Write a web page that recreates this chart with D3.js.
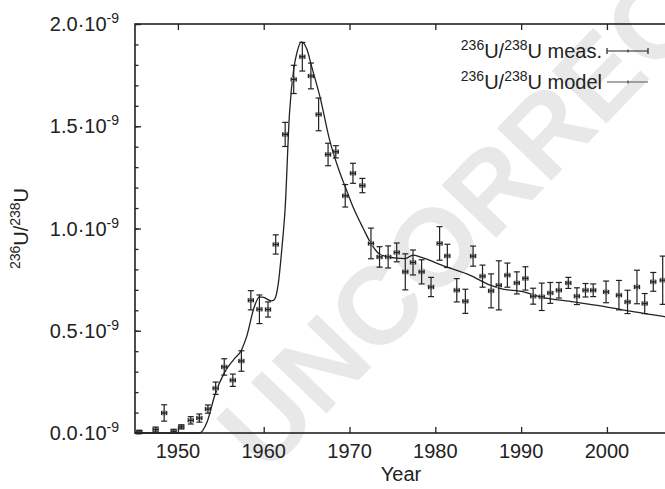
<!DOCTYPE html>
<html>
<head>
<meta charset="utf-8">
<script src="https://cdn.jsdelivr.net/npm/d3@7"></script>
<style>
  body { margin: 0; background: #fff; }
  svg { display: block; overflow: hidden; }
  text { font-family: "Liberation Sans", Arial, sans-serif; fill: #222; }
</style>
</head>
<body>
<div id="chart"></div>
<script>
// values of the ratio are in units of 1e-9
const years = [1945.5, 1947.4, 1948.4, 1949.5, 1950.4, 1951.5, 1952.5, 1953.5, 1954.4, 1955.4,
  1956.4, 1957.4, 1958.5, 1959.5, 1960.5, 1961.4, 1962.5, 1963.5, 1964.5, 1965.5,
  1966.4, 1967.5, 1968.4, 1969.5, 1970.4, 1971.5, 1972.5, 1973.5, 1974.5, 1975.5,
  1976.5, 1977.4, 1978.4, 1979.5, 1980.5, 1981.4, 1982.5, 1983.5, 1984.4, 1985.5,
  1986.5, 1987.4, 1988.4, 1989.5, 1990.5, 1991.4, 1992.4, 1993.4, 1994.4, 1995.5,
  1996.5, 1997.5, 1998.4, 1999.9, 2001.4, 2002.4, 2003.5, 2004.4, 2005.4, 2006.5];
const ratio = [0.005, 0.017, 0.098, 0.008, 0.03, 0.062, 0.073, 0.117, 0.219, 0.323,
  0.258, 0.352, 0.649, 0.605, 0.604, 0.922, 1.46, 1.729, 1.84, 1.746,
  1.558, 1.362, 1.375, 1.16, 1.27, 1.21, 0.927, 0.861, 0.861, 0.883,
  0.788, 0.834, 0.788, 0.714, 0.927, 0.866, 0.698, 0.644, 0.865, 0.767,
  0.695, 0.722, 0.772, 0.734, 0.756, 0.669, 0.666, 0.685, 0.698, 0.734,
  0.669, 0.698, 0.698, 0.69, 0.674, 0.641, 0.714, 0.633, 0.739, 0.747];
const ratioErr = [0.008, 0.012, 0.04, 0.01, 0.01, 0.018, 0.02, 0.02, 0.03, 0.04,
  0.03, 0.05, 0.047, 0.07, 0.037, 0.047, 0.059, 0.069, 0.07, 0.063,
  0.08, 0.055, 0.03, 0.055, 0.049, 0.035, 0.075, 0.05, 0.054, 0.046,
  0.088, 0.061, 0.059, 0.047, 0.082, 0.057, 0.057, 0.059, 0.049, 0.054,
  0.083, 0.12, 0.059, 0.054, 0.057, 0.039, 0.067, 0.051, 0.038, 0.027,
  0.041, 0.033, 0.031, 0.053, 0.072, 0.057, 0.082, 0.049, 0.046, 0.118];
const yearErr = 0.3;

const modelYears = [1945, 1952.5, 1953.4, 1954.3, 1955.4, 1956.5, 1957.4, 1958.0, 1958.9, 1959.5,
  1960.0, 1960.9, 1961.2, 1961.7, 1962.1, 1962.5, 1963.0, 1963.5, 1963.9, 1964.4,
  1965.0, 1965.6, 1966.6, 1967.7, 1968.9, 1969.5, 1970.4, 1971.6, 1972.5, 1973.4,
  1974.5, 1975.5, 1976.5, 1977.4, 1978.2, 1981.3, 1984.0, 1986.4, 1987.5, 1990.3,
  1992.2, 1996.1, 1999.9, 2002.7, 2006.4, 2007];
const modelRatio = [0, 0, 0.054, 0.185, 0.294, 0.359, 0.405, 0.47, 0.617, 0.666,
  0.663, 0.646, 0.65, 0.73, 0.894, 1.1, 1.56, 1.78, 1.865, 1.913,
  1.88, 1.79, 1.636, 1.43, 1.27, 1.204, 1.106, 1.0, 0.927, 0.878,
  0.861, 0.855, 0.853, 0.87, 0.861, 0.812, 0.772, 0.723, 0.707, 0.69,
  0.666, 0.641, 0.617, 0.596, 0.571, 0.567];

const xTicks = [1950, 1960, 1970, 1980, 1990, 2000];
const yTicks = [0, 0.5, 1.0, 1.5, 2.0];
const yMinorTicks = d3.range(0, 2.01, 0.1);

const W = 665, H = 489;
const margin = {top: 24, right: -2, bottom: 56, left: 135};

const svg = d3.select("#chart").append("svg")
  .attr("width", W).attr("height", H);

const x = d3.scaleLinear().domain([1945, 2007]).range([margin.left, W - margin.right]);
const y = d3.scaleLinear().domain([0, 2.0]).range([H - margin.bottom, margin.top]);

// watermark
svg.append("text")
  .attr("transform", "translate(266,476) rotate(-46)")
  .style("font-size", "110px")
  .style("font-weight", "bold")
  .style("fill", "#e8e8e8")
  .text("UNCORRECTED");

// model curve
const line = d3.line()
  .x((d, i) => x(modelYears[i]))
  .y(d => y(d))
  .curve(d3.curveMonotoneX);

svg.append("path")
  .datum(modelRatio)
  .attr("d", line)
  .style("fill", "none")
  .style("stroke", "#222")
  .style("stroke-width", 1.3);

// measurements with error bars
const pts = svg.append("g").selectAll("g")
  .data(years.map((yr, i) => ({yr, v: ratio[i], e: ratioErr[i]})))
  .enter().append("g");

pts.append("rect")
  .attr("x", d => x(d.yr) - 2.5).attr("y", d => y(d.v) - 2.5)
  .attr("width", 5).attr("height", 5)
  .style("fill", "#aaa");

const bar = (sel, f) => sel.append("line").call(f)
  .style("stroke", "#222").style("stroke-width", 1.2);

bar(pts, s => s.attr("x1", d => x(d.yr)).attr("x2", d => x(d.yr))
  .attr("y1", d => y(d.v - d.e)).attr("y2", d => y(d.v + d.e)));
bar(pts, s => s.attr("x1", d => x(d.yr) - 3).attr("x2", d => x(d.yr) + 3)
  .attr("y1", d => y(d.v - d.e)).attr("y2", d => y(d.v - d.e)));
bar(pts, s => s.attr("x1", d => x(d.yr) - 3).attr("x2", d => x(d.yr) + 3)
  .attr("y1", d => y(d.v + d.e)).attr("y2", d => y(d.v + d.e)));
bar(pts, s => s.attr("x1", d => x(d.yr - yearErr)).attr("x2", d => x(d.yr + yearErr))
  .attr("y1", d => y(d.v)).attr("y2", d => y(d.v)));
bar(pts, s => s.attr("x1", d => x(d.yr - yearErr)).attr("x2", d => x(d.yr - yearErr))
  .attr("y1", d => y(d.v) - 2).attr("y2", d => y(d.v) + 2));
bar(pts, s => s.attr("x1", d => x(d.yr + yearErr)).attr("x2", d => x(d.yr + yearErr))
  .attr("y1", d => y(d.v) - 2).attr("y2", d => y(d.v) + 2));

// frame
svg.append("rect")
  .attr("x", x(1945)).attr("y", y(2.0))
  .attr("width", x(2007) - x(1945)).attr("height", y(0) - y(2.0))
  .style("fill", "none").style("stroke", "#222").style("stroke-width", 1.6);

// axes with inward ticks
svg.append("g")
  .attr("transform", `translate(0,${y(0)})`)
  .call(d3.axisTop(x).tickValues(xTicks).tickSize(6).tickFormat(""))
  .call(g => g.select(".domain").remove());
svg.append("g")
  .attr("transform", `translate(0,${y(2.0)})`)
  .call(d3.axisBottom(x).tickValues(xTicks).tickSize(6).tickFormat(""))
  .call(g => g.select(".domain").remove());
svg.append("g")
  .attr("transform", `translate(${x(1945)},0)`)
  .call(d3.axisRight(y).tickValues(yMinorTicks).tickSize(3.5).tickFormat(""))
  .call(g => g.select(".domain").remove());
svg.append("g")
  .attr("transform", `translate(${x(1945)},0)`)
  .call(d3.axisRight(y).tickValues(yTicks).tickSize(6).tickFormat(""))
  .call(g => g.select(".domain").remove());
svg.selectAll(".tick line").style("stroke", "#222").style("stroke-width", 1.3);

// tick labels
svg.append("g").selectAll("text")
  .data(xTicks).enter().append("text")
  .attr("x", d => x(d)).attr("y", y(0) + 25)
  .attr("text-anchor", "middle")
  .style("font-size", "20px")
  .text(d => d);

const yl = svg.append("g").selectAll("text")
  .data(yTicks).enter().append("text")
  .attr("x", 119).attr("y", d => y(d) + 7)
  .attr("text-anchor", "end")
  .style("font-size", "20px");
yl.append("tspan").text(d => d3.format(".1f")(d) + "\u00b710");
yl.append("tspan").attr("dy", -8).style("font-size", "14px").text("-9");

// axis titles
svg.append("text")
  .attr("x", (x(1945) + x(2007)) / 2).attr("y", 481)
  .attr("text-anchor", "middle")
  .style("font-size", "20px")
  .text("Year");

const yt = svg.append("text")
  .attr("transform", `translate(28,${(y(0) + y(2.0)) / 2}) rotate(-90)`)
  .attr("text-anchor", "middle")
  .style("font-size", "20px");
yt.append("tspan").attr("dy", -8).style("font-size", "14px").text("236");
yt.append("tspan").attr("dy", 8).text("U/");
yt.append("tspan").attr("dy", -8).style("font-size", "14px").text("238");
yt.append("tspan").attr("dy", 8).text("U");

// legend
const legendRows = ["meas.", "model"];
const lg = svg.append("g");
legendRows.forEach((name, i) => {
  const ly = 51 + i * 31;
  const t = lg.append("text")
    .attr("x", 602).attr("y", ly + 7)
    .attr("text-anchor", "end")
    .style("font-size", "20px");
  t.append("tspan").attr("dy", -8).style("font-size", "14px").text("236");
  t.append("tspan").attr("dy", 8).text("U/");
  t.append("tspan").attr("dy", -8).style("font-size", "14px").text("238");
  t.append("tspan").attr("dy", 8).text("U " + name);
  lg.append("line")
    .attr("x1", 607).attr("x2", 648).attr("y1", ly).attr("y2", ly)
    .style("stroke", i === 0 ? "#222" : "#555").style("stroke-width", 1.2);
  if (i === 0) {
    [607, 648].forEach(cx => lg.append("line")
      .attr("x1", cx).attr("x2", cx).attr("y1", ly - 3).attr("y2", ly + 3)
      .style("stroke", "#222").style("stroke-width", 1.2));
  }
  lg.append("line")
    .attr("x1", 628).attr("x2", 628).attr("y1", ly - 1.5).attr("y2", ly + 1.5)
    .style("stroke", "#222").style("stroke-width", 1);
});
</script>
</body>
</html>
